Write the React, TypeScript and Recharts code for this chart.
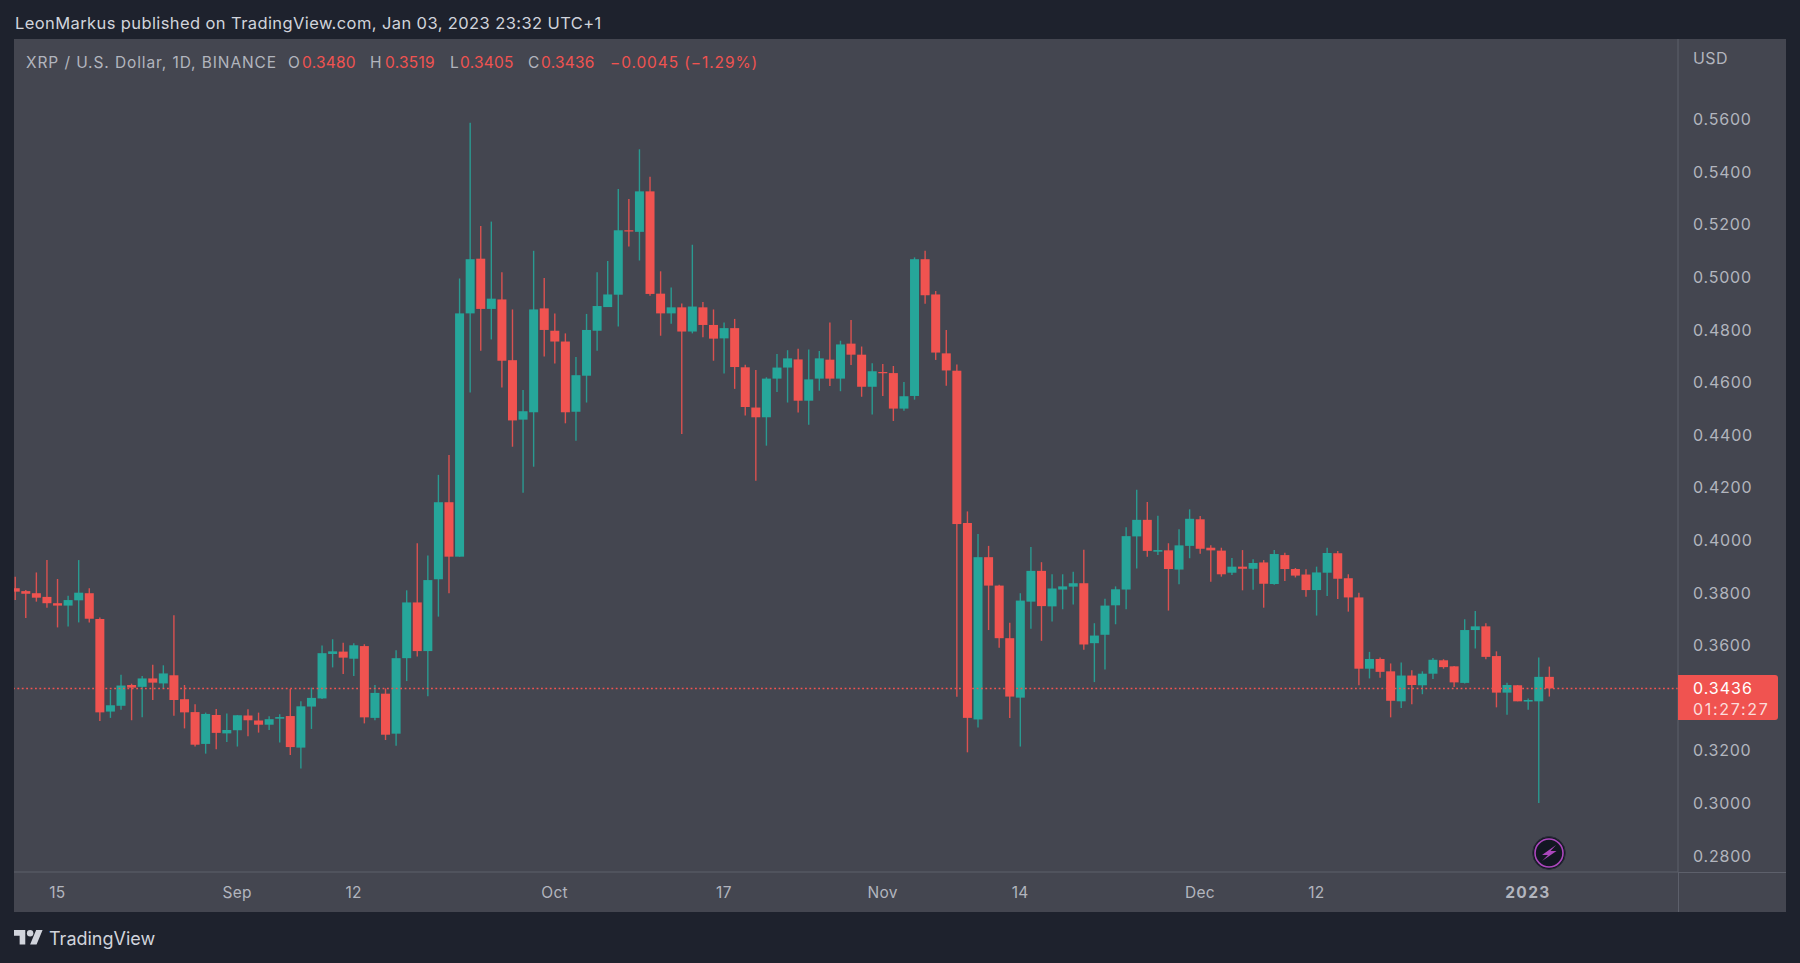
import { ComposedChart, Bar, XAxis, YAxis, ReferenceLine } from 'recharts';

const opens = [
  0.3817, 0.3806, 0.3798, 0.3784, 0.3760, 0.3751, 0.3771, 0.3798, 0.3700, 0.3348,
  0.3370, 0.3449, 0.3442, 0.3474, 0.3455, 0.3486, 0.3395, 0.3346, 0.3225, 0.3335,
  0.3265, 0.3277, 0.3333, 0.3314, 0.3298, 0.3321, 0.3331, 0.3211, 0.3367, 0.3398,
  0.3567, 0.3576, 0.3549, 0.3597, 0.3324, 0.3416, 0.3264, 0.3551, 0.3763, 0.3578,
  0.3851, 0.4144, 0.3937, 0.4862, 0.5070, 0.4879, 0.4915, 0.4684, 0.4458, 0.4486,
  0.4881, 0.4796, 0.4755, 0.4488, 0.4625, 0.4796, 0.4886, 0.4933, 0.5178, 0.5172,
  0.5326, 0.4937, 0.4862, 0.4885, 0.4793, 0.4885, 0.4818, 0.4767, 0.4806, 0.4657,
  0.4504, 0.4467, 0.4614, 0.4656, 0.4687, 0.4530, 0.4614, 0.4686, 0.4614, 0.4747,
  0.4705, 0.4583, 0.4639, 0.4635, 0.4500, 0.4548, 0.5068, 0.4934, 0.4710, 0.4644,
  0.4065, 0.3318, 0.3935, 0.3827, 0.3627, 0.3401, 0.3766, 0.3883, 0.3748, 0.3812,
  0.3823, 0.3836, 0.3608, 0.3640, 0.3752, 0.3812, 0.4014, 0.4077, 0.3956, 0.3961,
  0.3888, 0.3978, 0.4079, 0.3971, 0.3960, 0.3876, 0.3899, 0.3891, 0.3915, 0.3833,
  0.3943, 0.3890, 0.3869, 0.3810, 0.3876, 0.3950, 0.3855, 0.3782, 0.3511, 0.3548,
  0.3501, 0.3387, 0.3485, 0.3448, 0.3492, 0.3543, 0.3520, 0.3457, 0.3658, 0.3672,
  0.3559, 0.3420, 0.3448, 0.3386, 0.3387, 0.3480,
];

const highs = [
  0.3861, 0.3810, 0.3877, 0.3924, 0.3852, 0.3788, 0.3924, 0.3817, 0.3706, 0.3430,
  0.3488, 0.3454, 0.3483, 0.3526, 0.3524, 0.3714, 0.3449, 0.3376, 0.3344, 0.3358,
  0.3341, 0.3335, 0.3357, 0.3344, 0.3330, 0.3338, 0.3434, 0.3387, 0.3439, 0.3599,
  0.3623, 0.3610, 0.3608, 0.3604, 0.3449, 0.3436, 0.3581, 0.3809, 0.3988, 0.3941,
  0.4248, 0.4324, 0.4995, 0.5587, 0.5194, 0.5211, 0.5018, 0.4877, 0.4571, 0.5100,
  0.4997, 0.4862, 0.4786, 0.4696, 0.4860, 0.5018, 0.5061, 0.5335, 0.5297, 0.5486,
  0.5382, 0.5022, 0.4960, 0.4900, 0.5123, 0.4905, 0.4877, 0.4827, 0.4841, 0.4667,
  0.4647, 0.4619, 0.4708, 0.4722, 0.4728, 0.4725, 0.4719, 0.4827, 0.4758, 0.4837,
  0.4736, 0.4672, 0.4670, 0.4662, 0.4601, 0.5075, 0.5100, 0.4947, 0.4799, 0.4668,
  0.4109, 0.4023, 0.3978, 0.3830, 0.3686, 0.3798, 0.3974, 0.3916, 0.3870, 0.3870,
  0.3880, 0.3963, 0.3684, 0.3777, 0.3824, 0.4049, 0.4191, 0.4145, 0.4093, 0.3988,
  0.4041, 0.4117, 0.4092, 0.3980, 0.3971, 0.3932, 0.3962, 0.3927, 0.3924, 0.3962,
  0.3952, 0.3894, 0.3889, 0.3899, 0.3971, 0.3959, 0.3870, 0.3800, 0.3575, 0.3554,
  0.3531, 0.3535, 0.3505, 0.3501, 0.3552, 0.3547, 0.3521, 0.3699, 0.3730, 0.3684,
  0.3577, 0.3458, 0.3449, 0.3398, 0.3554, 0.3519,
];

const lows = [
  0.3772, 0.3704, 0.3766, 0.3743, 0.3668, 0.3671, 0.3687, 0.3687, 0.3312, 0.3324,
  0.3355, 0.3315, 0.3326, 0.3392, 0.3436, 0.3332, 0.3284, 0.3215, 0.3188, 0.3205,
  0.3232, 0.3215, 0.3254, 0.3268, 0.3278, 0.3230, 0.3183, 0.3132, 0.3282, 0.3396,
  0.3516, 0.3491, 0.3483, 0.3303, 0.3315, 0.3240, 0.3218, 0.3464, 0.3557, 0.3406,
  0.3709, 0.3798, 0.3937, 0.4561, 0.4720, 0.4763, 0.4580, 0.4355, 0.4180, 0.4279,
  0.4698, 0.4671, 0.4444, 0.4378, 0.4523, 0.4720, 0.4886, 0.4812, 0.5116, 0.5063,
  0.4929, 0.4777, 0.4823, 0.4403, 0.4786, 0.4771, 0.4682, 0.4633, 0.4575, 0.4474,
  0.4226, 0.4359, 0.4563, 0.4523, 0.4485, 0.4439, 0.4568, 0.4586, 0.4566, 0.4666,
  0.4545, 0.4478, 0.4548, 0.4453, 0.4492, 0.4534, 0.4899, 0.4685, 0.4587, 0.3404,
  0.3193, 0.3287, 0.3658, 0.3591, 0.3324, 0.3215, 0.3663, 0.3617, 0.3690, 0.3737,
  0.3755, 0.3583, 0.3460, 0.3508, 0.3680, 0.3737, 0.3892, 0.3937, 0.3943, 0.3732,
  0.3832, 0.3931, 0.3948, 0.3842, 0.3861, 0.3867, 0.3809, 0.3811, 0.3743, 0.3830,
  0.3844, 0.3858, 0.3785, 0.3713, 0.3787, 0.3776, 0.3728, 0.3448, 0.3474, 0.3477,
  0.3326, 0.3362, 0.3376, 0.3414, 0.3472, 0.3511, 0.3441, 0.3455, 0.3588, 0.3547,
  0.3364, 0.3336, 0.3387, 0.3355, 0.3000, 0.3405,
];

const closes = [
  0.3804, 0.3796, 0.3781, 0.3760, 0.3751, 0.3772, 0.3800, 0.3701, 0.3345, 0.3372,
  0.3447, 0.3439, 0.3474, 0.3458, 0.3493, 0.3392, 0.3345, 0.3222, 0.3339, 0.3267,
  0.3278, 0.3334, 0.3315, 0.3298, 0.3319, 0.3327, 0.3213, 0.3368, 0.3400, 0.3570,
  0.3577, 0.3553, 0.3600, 0.3326, 0.3419, 0.3260, 0.3551, 0.3763, 0.3578, 0.3848,
  0.4144, 0.3937, 0.4862, 0.5068, 0.4879, 0.4918, 0.4682, 0.4455, 0.4490, 0.4877,
  0.4799, 0.4755, 0.4486, 0.4627, 0.4799, 0.4890, 0.4934, 0.5178, 0.5174, 0.5326,
  0.4936, 0.4862, 0.4885, 0.4793, 0.4888, 0.4818, 0.4766, 0.4806, 0.4658, 0.4506,
  0.4467, 0.4614, 0.4656, 0.4691, 0.4530, 0.4611, 0.4691, 0.4614, 0.4744, 0.4705,
  0.4583, 0.4642, 0.4635, 0.4500, 0.4547, 0.5068, 0.4931, 0.4713, 0.4645, 0.4061,
  0.3324, 0.3935, 0.3827, 0.3627, 0.3405, 0.3770, 0.3883, 0.3749, 0.3816, 0.3824,
  0.3836, 0.3603, 0.3637, 0.3751, 0.3813, 0.4015, 0.4077, 0.3959, 0.3962, 0.3890,
  0.3980, 0.4081, 0.3967, 0.3961, 0.3870, 0.3899, 0.3891, 0.3913, 0.3834, 0.3947,
  0.3890, 0.3865, 0.3810, 0.3877, 0.3951, 0.3853, 0.3782, 0.3511, 0.3548, 0.3499,
  0.3389, 0.3485, 0.3449, 0.3492, 0.3545, 0.3517, 0.3459, 0.3658, 0.3672, 0.3556,
  0.3420, 0.3449, 0.3387, 0.3392, 0.3480, 0.3436,
];

const tickIndexes = [4, 21, 32, 51, 67, 82, 95, 112, 123, 143];
const tickLabels = ['15', 'Sep', '12', 'Oct', '17', 'Nov', '14', 'Dec', '12', '2023'];
// 0.34 sits behind the last price tag in the original, so it is left out
const priceTicks = [0.28, 0.3, 0.32, 0.36, 0.38, 0.4, 0.42, 0.44, 0.46, 0.48, 0.5, 0.52, 0.54, 0.56];
const lastPrice = 0.3436;

const candles = opens.map((open, i) => ({
  i,
  open,
  high: highs[i],
  low: lows[i],
  close: closes[i],
  range: [lows[i], highs[i]],
}));

const UP = '#26a69a';
const DOWN = '#f05350';
const FONT = 'Inter, "Noto Sans", sans-serif';
const GREY = '#b2b5be';

function Candle(props: any) {
  const { x, y, width, height, payload } = props;
  const { open, close, high, low } = payload;
  const up = close >= open;
  const color = up ? UP : DOWN;
  const perPrice = height / (high - low);
  const top = y + (high - Math.max(open, close)) * perPrice;
  const bodyH = Math.max(Math.abs(open - close) * perPrice, 1.2);
  const cx = x + width / 2;
  return (
    <g>
      <line x1={cx} x2={cx} y1={y} y2={y + height} stroke={color} strokeWidth={1.4} strokeOpacity={0.88} />
      <rect x={x} y={top} width={width} height={bodyH} fill={color} />
    </g>
  );
}

function TimeTick({ x, y, payload }: any) {
  const label = tickLabels[tickIndexes.indexOf(payload.value)];
  const bold = label === '2023';
  return (
    <text
      x={x}
      y={y + 17.5}
      textAnchor="middle"
      fill={GREY}
      fontFamily={FONT}
      fontSize={15.5}
      fontWeight={bold ? 700 : 400}
      letterSpacing={bold ? 1.4 : 0.3}
    >
      {label}
    </text>
  );
}

function PriceTick({ x, y, payload }: any) {
  return (
    <text x={x + 7} y={y + 6} fill={GREY} fontFamily={FONT} fontSize={16} letterSpacing={0.8}>
      {payload.value.toFixed(4)}
    </text>
  );
}

function Txt({ x, y, color, size = 15.5, spacing = 0.25, children }: any) {
  return (
    <span
      style={{
        position: 'absolute',
        left: x,
        top: y,
        color,
        fontFamily: FONT,
        fontSize: size,
        letterSpacing: spacing,
        lineHeight: '20px',
        whiteSpace: 'pre',
      }}
    >
      {children}
    </span>
  );
}

export default function App() {
  return (
    <div style={{ position: 'absolute', left: 0, top: 0, width: 1800, height: 963, background: '#1e222d', overflow: 'hidden' }}>
      <div style={{ position: 'absolute', left: 14, top: 39, width: 1772, height: 873, background: '#444650' }} />
      <div style={{ position: 'absolute', left: 1678, top: 872, width: 108, height: 1, background: '#5d606b' }} />
      <div style={{ position: 'absolute', left: 1678, top: 872, width: 1, height: 40, background: '#5d606b' }} />

      <div style={{ position: 'absolute', left: 0, top: 0 }}>
        <ComposedChart width={1800} height={963} data={candles} margin={{ top: 39, right: 14, bottom: 51, left: 14 }}>
          <XAxis
            dataKey="i"
            type="number"
            domain={[-0.0945, 157.18]}
            allowDataOverflow
            ticks={tickIndexes}
            interval={0}
            height={40}
            tick={<TimeTick />}
            tickLine={false}
            axisLine={{ stroke: '#5d606b' }}
          />
          <YAxis
            orientation="right"
            domain={[0.2738, 0.59053]}
            allowDataOverflow
            ticks={priceTicks}
            interval={0}
            width={108}
            tick={<PriceTick />}
            tickLine={false}
            axisLine={{ stroke: '#5d606b' }}
          />
          <Bar dataKey="range" barSize={9} shape={<Candle />} isAnimationActive={false} />
          <ReferenceLine y={lastPrice} stroke={DOWN} strokeWidth={1.6} strokeDasharray="1.8 2.6" />
        </ComposedChart>
      </div>

      <Txt x={15} y={13} color="#d1d4dc" size={16.5} spacing={0.4}>LeonMarkus published on TradingView.com, Jan 03, 2023 23:32 UTC+1</Txt>

      <Txt x={26} y={53} color={GREY} spacing={0.9}>XRP / U.S. Dollar, 1D, BINANCE</Txt>
      <Txt x={288} y={53} color={GREY}>O</Txt>
      <Txt x={302} y={53} color={DOWN}>0.3480</Txt>
      <Txt x={370} y={53} color={GREY}>H</Txt>
      <Txt x={385} y={53} color={DOWN}>0.3519</Txt>
      <Txt x={450} y={53} color={GREY}>L</Txt>
      <Txt x={460} y={53} color={DOWN}>0.3405</Txt>
      <Txt x={528} y={53} color={GREY}>C</Txt>
      <Txt x={541} y={53} color={DOWN}>0.3436</Txt>
      <Txt x={610} y={53} color={DOWN} spacing={0.9}>−0.0045 (−1.29%)</Txt>

      <Txt x={1693} y={48} color={GREY} size={16} spacing={0.4}>USD</Txt>

      <div style={{ position: 'absolute', left: 1678, top: 675, width: 100, height: 45, background: DOWN, borderRadius: '0 3px 3px 0' }} />
      <Txt x={1693} y={678} color="#ffffff" size={16} spacing={1}>0.3436</Txt>
      <Txt x={1693} y={699} color="#fbdcdb" size={16} spacing={1.7}>01:27:27</Txt>

      <svg style={{ position: 'absolute', left: 1531, top: 835 }} width={36} height={36} viewBox="0 0 36 36">
        <circle cx={18} cy={18} r={16.4} fill="#131722" stroke="#2a2e39" strokeWidth={1} />
        <circle cx={18} cy={18} r={14} fill="none" stroke="#ab47bc" strokeWidth={1.6} />
        <path d="M25 10 L11 20 L17 20 L11 26 L25.5 16 L19.5 16 Z" fill="#ab47bc" />
      </svg>

      <svg style={{ position: 'absolute', left: 14, top: 930 }} width={29} height={14.5} viewBox="0 4 36 18">
        <path d="M14 22H7V11H0V4h14v18zM28 22h-8l7.5-18h8L28 22z" fill="#d1d4dc" />
        <circle cx={20} cy={8} r={4} fill="#d1d4dc" />
      </svg>
      <Txt x={49} y={929} color="#d1d4dc" size={18} spacing={0}>TradingView</Txt>
    </div>
  );
}
